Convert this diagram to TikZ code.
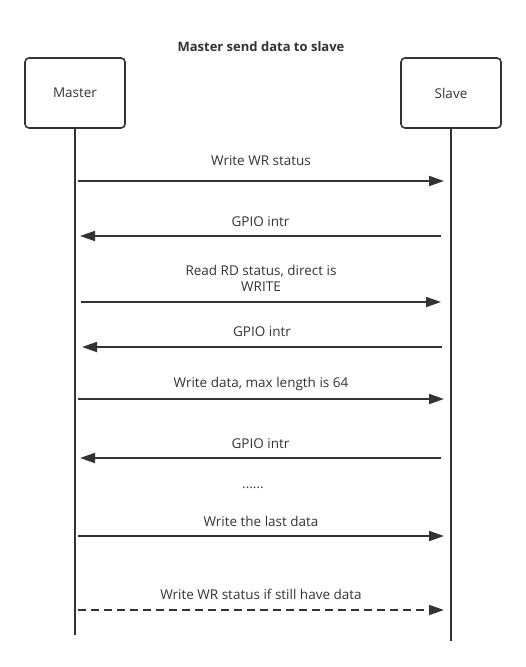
\documentclass[tikz,border=0pt]{standalone}
\usepackage{fontspec}
\setmainfont{Open Sans}
\usepackage{tikz}
\usetikzlibrary{arrows.meta}

\definecolor{ink}{HTML}{333333}

\begin{document}
\begin{tikzpicture}[x=1pt, y=-1pt, line cap=butt,
    actor/.style={draw=ink, line width=1.6pt, rounded corners=4pt,
        minimum width=100pt, minimum height=70pt, text=ink,
        font=\fontsize{13.5}{15}\selectfont},
    life/.style={draw=ink, line width=1.5pt},
    msg/.style={draw=ink, line width=1.8pt, -{Triangle[length=15pt, width=10pt]}},
    lbl/.style={text=ink, font=\fontsize{13.5}{16}\selectfont, align=center}]

\useasboundingbox (0,0) rectangle (526,667);

% Titolo
\node[font=\bfseries\fontsize{13}{15}\selectfont, text=ink] (title) at (261,47) {Master send data to slave};

% Attori
\node[actor] (master) at (75,93) {Master};
\node[actor] (slave) at (451,93) {Slave};

% Linee di vita
\coordinate (mEnd) at (75,635);
\coordinate (sEnd) at (451,641);
\draw[life] (master.south) -- (mEnd);
\draw[life] (slave.south) -- (sEnd);

% Punti dei messaggi
\coordinate (m1) at (78,181);  \coordinate (s1) at (444,181);
\coordinate (s2) at (441,236); \coordinate (m2) at (80,236);
\coordinate (m3) at (81,302);  \coordinate (s3) at (441,302);
\coordinate (s4) at (442,347); \coordinate (m4) at (82,347);
\coordinate (m5) at (78,399);  \coordinate (s5) at (444,399);
\coordinate (s6) at (441,458); \coordinate (m6) at (80,458);
\coordinate (m7) at (78,536);  \coordinate (s7) at (444,536);
\coordinate (m8) at (78,610);  \coordinate (s8) at (444,610);

% Messaggi
\draw[msg] (m1) -- node[lbl, above=11pt] (t1) {Write WR status} (s1);
\draw[msg] (s2) -- node[lbl, above=5pt] (t2) {GPIO intr} (m2);
\draw[msg] (m3) -- node[lbl, above=6pt] (t3) {Read RD status, direct is\\WRITE} (s3);
\draw[msg] (s4) -- node[lbl, above=6pt] (t4) {GPIO intr} (m4);
\draw[msg] (m5) -- node[lbl, above=4pt] (t5) {Write data, max length is 64} (s5);
\draw[msg] (s6) -- node[lbl, above=5pt] (t6) {GPIO intr} (m6);
\node[lbl] (dots) at (253,488) {......};
\draw[msg] (m7) -- node[lbl, above=5pt] (t7) {Write the last data} (s7);
\draw[msg, dashed, dash pattern=on 8pt off 5pt] (m8) -- node[lbl, above=6pt] (t8) {Write WR status if still have data} (s8);

\end{tikzpicture}
\end{document}
